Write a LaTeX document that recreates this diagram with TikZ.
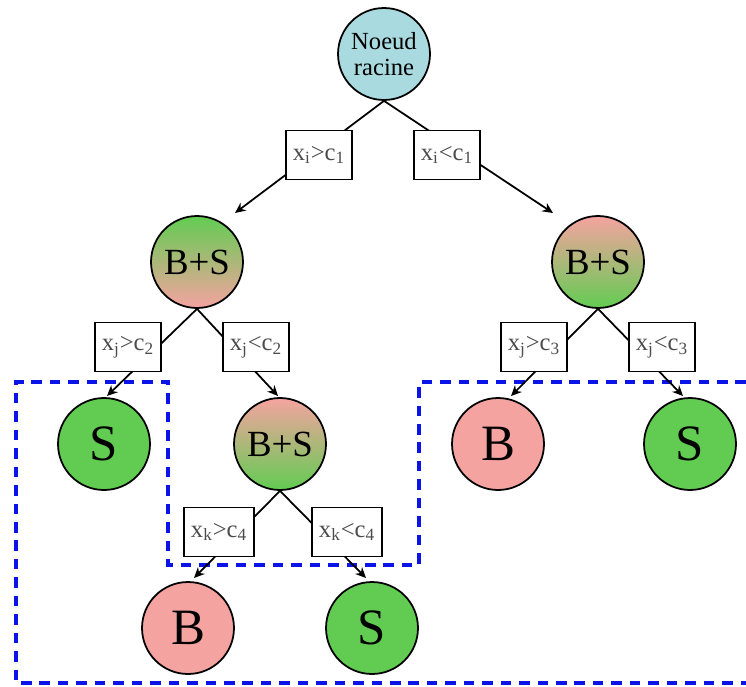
\documentclass[tikz,border=0pt]{standalone}
\usepackage{fontspec}
\setmainfont{Liberation Serif}
\usetikzlibrary{arrows.meta}
\definecolor{rootBlue}{HTML}{A9DADF}
\definecolor{sigGreen}{HTML}{62CC52}
\definecolor{bkgPink}{HTML}{F5A3A0}
\definecolor{regionBlue}{HTML}{0A14E6}

\tikzset{
  treeNode/.style={circle, draw=black, line width=1pt, minimum size=1.84cm, inner sep=0pt},
  rootNode/.style={treeNode, fill=rootBlue, align=center, font=\fontsize{14}{15}\selectfont},
  mixUp/.style={treeNode, top color=sigGreen, bottom color=bkgPink, font=\fontsize{21}{21}\selectfont},
  mixDown/.style={treeNode, top color=bkgPink, bottom color=sigGreen, font=\fontsize{21}{21}\selectfont},
  sigNode/.style={treeNode, fill=sigGreen, font=\fontsize{29}{29}\selectfont},
  bkgNode/.style={treeNode, fill=bkgPink, font=\fontsize{29}{29}\selectfont},
  cutBox/.style={draw=black, line width=0.9pt, fill=white, minimum height=0.98cm,
                 inner xsep=4pt, text=black!70, font=\fontsize{14}{14}\selectfont},
  splitArrow/.style={line width=1pt, -{Stealth[length=6pt, width=5.5pt]}},
  regionLine/.style={draw=regionBlue, line width=2pt, dash pattern=on 6pt off 4.5pt}
}

\begin{document}
\begin{tikzpicture}[x=0.02cm, y=-0.02cm]
  \useasboundingbox (0,0) rectangle (746,686);

  % selected regions
  \draw[regionLine] (746,382) -- (419,382) -- (419,565) -- (168,565) -- (168,382)
                    -- (16,382) -- (16,683) -- (746,683);

  % tree nodes
  \node[rootNode] (root) at (384,54) {Noeud\\racine};
  \node[mixUp]    (bsL)  at (197,262) {B+S};
  \node[mixDown]  (bsR)  at (598,262) {B+S};
  \node[sigNode]  (sL)   at (104,444) {S};
  \node[mixDown]  (bsM)  at (280,444) {B+S};
  \node[bkgNode]  (bR)   at (498,444) {B};
  \node[sigNode]  (sR)   at (690,444) {S};
  \node[bkgNode]  (bB)   at (188,628) {B};
  \node[sigNode]  (sB)   at (372,628) {S};

  % arrow tips
  \coordinate (tipRL) at (235,213);
  \coordinate (tipRR) at (553,213);
  \coordinate (tipLL) at (107,396);
  \coordinate (tipLR) at (278,396);
  \coordinate (tipRRL) at (511,396);
  \coordinate (tipRRR) at (683,396);
  \coordinate (tipML) at (194,578);
  \coordinate (tipMR) at (366,578);

  \foreach \src/\tip in {root/tipRL, root/tipRR, bsL/tipLL, bsL/tipLR,
                         bsR/tipRRL, bsR/tipRRR, bsM/tipML, bsM/tipMR}
    \draw[splitArrow] (\src.south) -- (\tip);

  % cut labels
  \node[cutBox] (cutA) at (319,155) {x\textsubscript{i}>c\textsubscript{1}};
  \node[cutBox] (cutB) at (447,155) {x\textsubscript{i}<c\textsubscript{1}};
  \node[cutBox] (cutC) at (128,347) {x\textsubscript{j}>c\textsubscript{2}};
  \node[cutBox] (cutD) at (256,347) {x\textsubscript{j}<c\textsubscript{2}};
  \node[cutBox] (cutE) at (534,347) {x\textsubscript{j}>c\textsubscript{3}};
  \node[cutBox] (cutF) at (662,347) {x\textsubscript{j}<c\textsubscript{3}};
  \node[cutBox] (cutG) at (219,532) {x\textsubscript{k}>c\textsubscript{4}};
  \node[cutBox] (cutH) at (347,532) {x\textsubscript{k}<c\textsubscript{4}};
\end{tikzpicture}
\end{document}
